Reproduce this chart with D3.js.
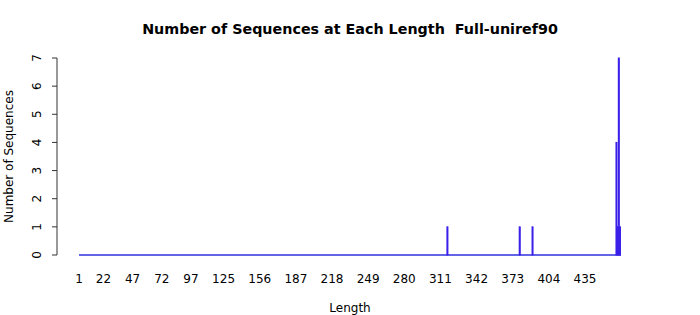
<!DOCTYPE html>
<html>
<head>
<meta charset="utf-8">
<script src="https://cdn.jsdelivr.net/npm/d3@7"></script>
<style>
  body { margin: 0; background: #fff; }
  text { font-family: "DejaVu Sans", sans-serif; }
</style>
</head>
<body>
<svg id="chart"></svg>
<script>
// sequence lengths that have at least one hit, and how many
const lengths = [317, 379, 390, 462, 463, 464, 465]
const counts  = [1,   1,   1,   4,   1,   7,   1]
const minLen = 1
const maxLen = 465

const xTickLabels = [1, 22, 47, 72, 97, 125, 156, 187, 218, 249, 280, 311, 342, 373, 404, 435]
const yTicks = [0, 1, 2, 3, 4, 5, 6, 7]

const width = 700, height = 315

const svg = d3.select('#chart').attr('width', width).attr('height', height)

const x = d3.scaleLinear().domain([1, 435]).range([79, 585])
const y = d3.scaleLinear().domain([0, 7]).range([255, 58])

// title (two spaces kept)
svg.append('text')
    .attr('x', 350).attr('y', 34)
    .attr('text-anchor', 'middle')
    .style('font-size', '14.3px').style('font-weight', 'bold')
    .style('white-space', 'pre')
    .text('Number of Sequences at Each Length  Full-uniref90')

// zero bars -> baseline
svg.append('line')
    .attr('x1', x(minLen)).attr('x2', x(maxLen) + 1)
    .attr('y1', y(0)).attr('y2', y(0))
    .attr('stroke', '#3030e0').attr('stroke-width', 1.5)

let bars = lengths.map((l, i) => ({len: l, n: counts[i]}))

svg.append('g').selectAll('rect')
    .data(bars)
    .enter().append('rect')
    .attr('x', d => x(d.len) - 0.5)
    .attr('width', 1)
    .attr('y', d => y(d.n))
    .attr('height', d => y(0) - y(d.n))
    .attr('fill', '#2400f0')
    .attr('stroke', '#3a20e8')
    .attr('stroke-width', 1)

// y axis (R style)
let yAxis = svg.append('g')
yAxis.append('line')
    .attr('x1', 57).attr('x2', 57)
    .attr('y1', y(7)).attr('y2', y(0))
    .attr('stroke', '#333')
yAxis.selectAll('.tick')
    .data(yTicks)
    .enter().append('line')
    .attr('x1', 52).attr('x2', 57)
    .attr('y1', d => y(d)).attr('y2', d => y(d))
    .attr('stroke', '#333')
yAxis.selectAll('.lab')
    .data(yTicks)
    .enter().append('text')
    .attr('transform', d => `translate(41,${y(d)}) rotate(-90)`)
    .attr('text-anchor', 'middle')
    .style('font-size', '12px')
    .text(d => d)

svg.append('text')
    .attr('transform', `translate(13,${(y(0) + y(7)) / 2}) rotate(-90)`)
    .attr('text-anchor', 'middle')
    .style('font-size', '12px')
    .text('Number of Sequences')

// x labels, no axis line
svg.append('g').selectAll('text')
    .data(xTickLabels)
    .enter().append('text')
    .attr('x', d => x(d))
    .attr('y', 283)
    .attr('text-anchor', 'middle')
    .style('font-size', '12px')
    .text(d => d)

svg.append('text')
    .attr('x', 350).attr('y', 312)
    .attr('text-anchor', 'middle')
    .style('font-size', '12px')
    .text('Length')
</script>
</body>
</html>
